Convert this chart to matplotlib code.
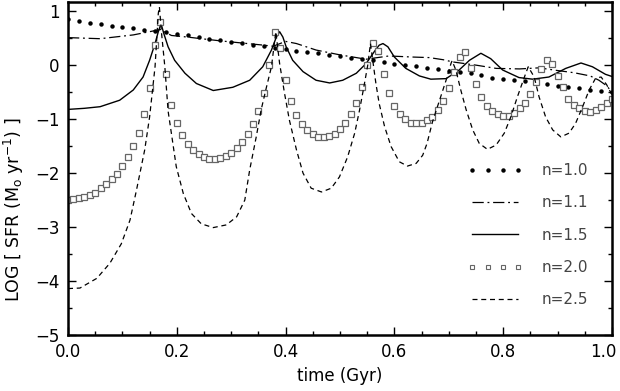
import numpy as np
import matplotlib.pyplot as plt
from matplotlib.lines import Line2D
from matplotlib.ticker import MultipleLocator
from matplotlib.transforms import ScaledTranslation

# n=1.0 : dots, every 0.02 Gyr
dots_t = np.linspace(0.0, 1.0, 51)
dots_y = [0.85, 0.81, 0.78, 0.76, 0.73, 0.71, 0.69, 0.66, 0.64, 0.61,
          0.58, 0.56, 0.52, 0.49, 0.46, 0.43, 0.41, 0.38, 0.35, 0.32,
          0.29, 0.27, 0.24, 0.22, 0.19, 0.17, 0.14, 0.11, 0.09, 0.05,
          0.03, 0.00, -0.02, -0.05, -0.08, -0.10, -0.12, -0.15, -0.19, -0.23,
          -0.26, -0.28, -0.29, -0.31, -0.35, -0.39, -0.41, -0.43, -0.46, -0.48,
          -0.50]

# n=1.1 : dash-dot
dd_t = [0.000, 0.059, 0.120, 0.150, 0.170, 0.190, 0.220, 0.245, 0.280, 0.320,
        0.360, 0.377, 0.400, 0.420, 0.456, 0.500, 0.548, 0.590, 0.634, 0.664,
        0.690, 0.707, 0.750, 0.787, 0.830, 0.866, 0.900, 0.930, 0.960, 0.976,
        0.990, 1.000]
dd_y = [0.51, 0.49, 0.56, 0.62, 0.66, 0.55, 0.52, 0.49, 0.45, 0.41,
        0.37, 0.35, 0.44, 0.40, 0.28, 0.19, 0.11, 0.17, 0.15, 0.14,
        0.10, 0.06, 0.00, -0.06, -0.07, -0.05, -0.10, -0.14, -0.20, -0.28,
        -0.38, -0.50]

# n=1.5 : solid
sol_t = [0.000, 0.030, 0.059, 0.095, 0.120, 0.138, 0.150, 0.160, 0.166, 0.171,
         0.176, 0.184, 0.196, 0.215, 0.236, 0.267, 0.303, 0.334, 0.358, 0.374,
         0.383, 0.389, 0.395, 0.401, 0.413, 0.432, 0.456, 0.481, 0.505, 0.530,
         0.548, 0.563, 0.572, 0.579, 0.588, 0.600, 0.621, 0.646, 0.667, 0.695,
         0.719, 0.738, 0.759, 0.777, 0.799, 0.829, 0.854, 0.884, 0.915, 0.943,
         0.964, 0.988, 1.000]
sol_y = [-0.82, -0.80, -0.77, -0.65, -0.46, -0.22, 0.09, 0.40, 0.62, 0.77,
         0.59, 0.34, 0.09, -0.15, -0.34, -0.47, -0.41, -0.28, -0.03, 0.28,
         0.52, 0.62, 0.52, 0.34, 0.09, -0.12, -0.28, -0.33, -0.28, -0.15,
         0.03, 0.25, 0.37, 0.40, 0.34, 0.15, -0.06, -0.20, -0.26, -0.25,
         -0.09, 0.09, 0.22, 0.12, -0.09, -0.23, -0.26, -0.22, -0.06, 0.04,
         -0.03, -0.17, -0.21]

# n=2.0 : open squares, every 0.01 Gyr
sq_t = np.linspace(0.0, 1.0, 101)
sq_y = [-2.49, -2.48, -2.46, -2.44, -2.40, -2.36, -2.28, -2.20, -2.11, -2.01,
        -1.87, -1.71, -1.50, -1.25, -0.91, -0.43, 0.38, 0.80, -0.17, -0.73,
        -1.07, -1.30, -1.46, -1.57, -1.65, -1.71, -1.74, -1.74, -1.72, -1.68,
        -1.62, -1.54, -1.43, -1.28, -1.09, -0.85, -0.51, 0.00, 0.62, 0.32,
        -0.28, -0.67, -0.93, -1.09, -1.20, -1.28, -1.33, -1.34, -1.31, -1.27,
        -1.19, -1.07, -0.91, -0.70, -0.40, 0.01, 0.41, 0.27, -0.17, -0.52,
        -0.76, -0.91, -1.00, -1.07, -1.08, -1.07, -1.02, -0.96, -0.83, -0.66,
        -0.43, -0.12, 0.15, 0.24, -0.05, -0.35, -0.59, -0.76, -0.85, -0.91,
        -0.94, -0.94, -0.89, -0.80, -0.70, -0.54, -0.31, -0.07, 0.09, 0.03,
        -0.20, -0.41, -0.62, -0.73, -0.80, -0.85, -0.86, -0.83, -0.77, -0.70,
        -0.63]

# n=2.5 : dashed
da_t = [0.000, 0.022, 0.053, 0.077, 0.098, 0.114, 0.126, 0.141, 0.150, 0.160,
        0.166, 0.168, 0.172, 0.178, 0.184, 0.190, 0.199, 0.212, 0.227, 0.245,
        0.267, 0.291, 0.310, 0.325, 0.334, 0.346, 0.355, 0.365, 0.374, 0.382,
        0.389, 0.398, 0.407, 0.420, 0.432, 0.447, 0.466, 0.484, 0.499, 0.514,
        0.527, 0.536, 0.545, 0.551, 0.556, 0.561, 0.566, 0.572, 0.582, 0.594,
        0.609, 0.624, 0.640, 0.652, 0.660, 0.670, 0.683, 0.695, 0.704, 0.706,
        0.713, 0.722, 0.732, 0.744, 0.756, 0.771, 0.787, 0.802, 0.814, 0.826,
        0.839, 0.846, 0.857, 0.866, 0.878, 0.891, 0.906, 0.921, 0.933, 0.946,
        0.958, 0.970, 0.980, 0.990, 1.000]
da_y = [-4.14, -4.13, -3.95, -3.67, -3.31, -2.87, -2.31, -1.57, -0.96, -0.03,
        0.96, 1.08, 0.59, -0.03, -0.85, -1.26, -1.88, -2.38, -2.75, -2.94,
        -3.01, -2.96, -2.81, -2.50, -1.94, -1.33, -0.83, -0.40, -0.03, 0.62,
        0.03, -0.52, -1.02, -1.57, -2.00, -2.28, -2.35, -2.28, -2.07, -1.70,
        -1.26, -0.83, -0.34, 0.00, 0.40, 0.03, -0.34, -0.71, -1.14, -1.51,
        -1.79, -1.87, -1.82, -1.67, -1.45, -1.05, -0.65, -0.28, 0.03, 0.08,
        -0.09, -0.46, -0.83, -1.20, -1.45, -1.56, -1.48, -1.26, -0.96, -0.59,
        -0.22, -0.03, -0.22, -0.59, -0.96, -1.20, -1.33, -1.26, -1.08, -0.77,
        -0.46, -0.24, -0.22, -0.36, -0.55]

labels = ['n=1.0', 'n=1.1', 'n=1.5', 'n=2.0', 'n=2.5']

fig = plt.figure(figsize=(6.2, 3.91), dpi=100)
ax = fig.add_axes([68 / 620, 1 - 335 / 391, 544 / 620, 333 / 391])

ax.plot(dots_t, dots_y, 'o', color='black', ms=3.2, mew=0)
ax.plot(dd_t, dd_y, color='black', lw=0.9, dashes=(9, 3, 1.5, 3))
ax.plot(sol_t, sol_y, color='black', lw=1.0)
ax.plot(sq_t, sq_y, 's', mfc='white', mec='#666666', ms=5, mew=0.9)
ax.plot(da_t, da_y, color='black', lw=0.9, dashes=(4, 3))

ax.set_xlim(0, 1.0)
ax.set_ylim(-5, 1.17)
ax.xaxis.set_major_locator(MultipleLocator(0.2))
ax.xaxis.set_minor_locator(MultipleLocator(0.05))
ax.yaxis.set_major_locator(MultipleLocator(1))
ax.yaxis.set_minor_locator(MultipleLocator(0.5))
ax.xaxis.set_major_formatter(plt.FuncFormatter(lambda v, p: f'{v:.1f}'))
ax.tick_params(which='both', direction='in', top=True, right=True,
               labelsize=12, width=1.0, pad=6)
ax.tick_params(which='major', length=6)
ax.tick_params(which='minor', length=3)
for s in ax.spines.values():
    s.set_linewidth(1.8)

# keep the "1.0" label inside the figure
fig.canvas.draw()
last = [lab for lab in ax.get_xticklabels() if lab.get_text() == '1.0']
for lab in last:
    lab.set_transform(lab.get_transform() + ScaledTranslation(-6 / 72, 0, fig.dpi_scale_trans))

ax.set_xlabel('time (Gyr)', fontsize=12)
ax.set_ylabel(r'LOG [ SFR (M$_{\rm o}$ yr$^{-1}$) ]', fontsize=12.5)
ax.yaxis.set_label_coords(-0.078, 0.375)

# legend proxies
handles = [
    Line2D([], [], ls='none', marker='o', color='black', ms=3.2, mew=0),
    Line2D([], [], color='black', lw=0.9, dashes=(9, 3, 1.5, 3)),
    Line2D([], [], color='black', lw=1.0),
    Line2D([], [], ls='none', marker='s', mfc='white', mec='#666666', ms=3, mew=0.8),
    Line2D([], [], color='black', lw=0.9, dashes=(4, 3)),
]
leg = ax.legend(handles, labels, loc='upper left', bbox_to_anchor=(0.735, 0.516),
                frameon=False, fontsize=11, numpoints=4, handlelength=3.6,
                handletextpad=1.2, labelspacing=1.13, borderpad=0, borderaxespad=0)
for t in leg.get_texts():
    t.set_color('#444444')

fig.savefig('out.png', dpi=100)
